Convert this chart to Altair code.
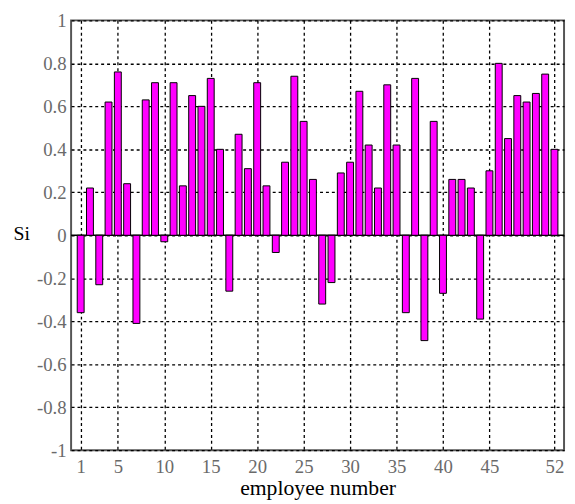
import altair as alt
import pandas as pd

employees = list(range(1, 53))
si_values = [
    -0.36, 0.22, -0.23, 0.62, 0.76, 0.24, -0.41, 0.63, 0.71, -0.03,
    0.71, 0.23, 0.65, 0.60, 0.73, 0.40, -0.26, 0.47, 0.31, 0.71,
    0.23, -0.08, 0.34, 0.74, 0.53, 0.26, -0.32, -0.22, 0.29, 0.34,
    0.67, 0.42, 0.22, 0.70, 0.42, -0.36, 0.73, -0.49, 0.53, -0.27,
    0.26, 0.26, 0.22, -0.39, 0.30, 0.80, 0.45, 0.65, 0.62, 0.66,
    0.75, 0.40,
]
x_ticks = [1, 5, 10, 15, 20, 25, 30, 35, 40, 45, 52]
y_ticks = [-1, -0.8, -0.6, -0.4, -0.2, 0, 0.2, 0.4, 0.6, 0.8, 1]

df = pd.DataFrame({"employee": employees, "si": si_values})

FONT = "Liberation Serif"

x_enc = alt.X(
    "employee:Q",
    scale=alt.Scale(domain=[0.5, 52.5], nice=False, zero=False),
    axis=alt.Axis(
        values=x_ticks,
        title="employee number",
        titleFont=FONT,
        titleFontSize=22,
        titleFontWeight="normal",
        titleColor="black",
        titleBaseline="middle",
        titleY=38,
        labelFont=FONT,
        labelFontSize=19,
        labelColor="#6a6a6a",
        labelBaseline="top",
        labelPadding=8,
        labelExpr="'' + datum.value",
        ticks=False,
        domain=False,
        grid=True,
        gridColor="black",
        gridDash=[3, 3],
        gridWidth=1.3,
        gridOpacity=1,
    ),
)

y_enc = alt.Y(
    "si:Q",
    scale=alt.Scale(domain=[-1, 1], nice=False),
    axis=alt.Axis(
        values=y_ticks,
        title="Si",
        titleAngle=0,
        titleAlign="left",
        titleBaseline="middle",
        titleX=-59,
        titleY=216,
        titleFont=FONT,
        titleFontSize=20,
        titleFontWeight="normal",
        titleColor="black",
        labelFont=FONT,
        labelFontSize=19,
        labelColor="#6a6a6a",
        labelPadding=5,
        labelExpr="'' + datum.value",
        ticks=False,
        domain=False,
        grid=True,
        gridColor="black",
        gridDash=[3, 3],
        gridWidth=1.3,
        gridOpacity=1,
    ),
)

bars = alt.Chart(df).mark_bar(
    size=7, color="#ff00ff", stroke="black", strokeWidth=1
).encode(x=x_enc, y=y_enc)

zero_df = pd.DataFrame({"y": [0]})
zero_line = alt.Chart(zero_df).mark_rule(color="black", strokeWidth=1.5).encode(
    y=alt.Y("y:Q", scale=alt.Scale(domain=[-1, 1], nice=False))
)

chart = (
    alt.layer(zero_line, bars)
    .properties(
        width=500,
        height=436,
        autosize=alt.AutoSizeParams(type="none"),
        padding={"left": 64, "top": 9, "right": 3, "bottom": 50},
        background="white",
    )
    .configure_view(stroke="#555555", strokeWidth=2)
)

chart.save("out.html", embed_options={"renderer": "svg", "actions": False})
